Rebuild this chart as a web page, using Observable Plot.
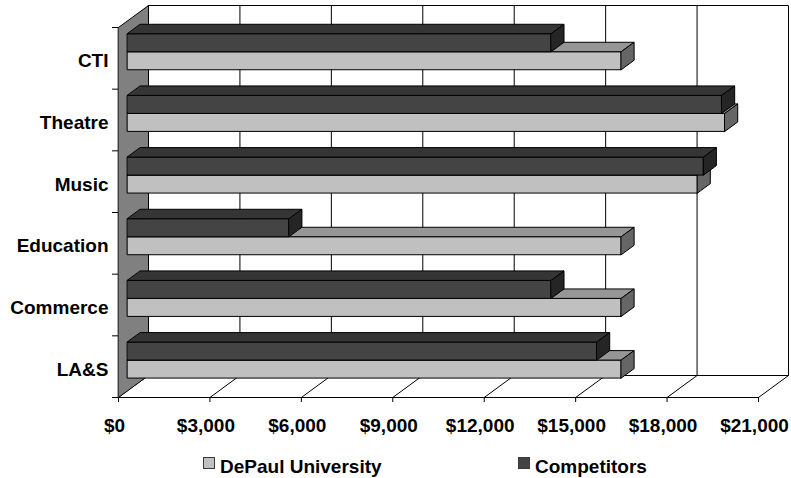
<!DOCTYPE html>
<html><head><meta charset="utf-8">
<script src="https://cdn.jsdelivr.net/npm/d3@7"></script>
<script src="https://cdn.jsdelivr.net/npm/@observablehq/plot@0.6"></script>
<style>
body{margin:0;background:#fff;font-family:"Liberation Sans",Arial,sans-serif;}
#wrap{position:relative;width:791px;height:478px;overflow:hidden;}
#legend{position:relative;width:791px;height:30px;}
.lt{position:absolute;font-weight:bold;font-size:19px;line-height:19px;white-space:nowrap;color:#000;}
.sw{position:absolute;width:10px;height:10px;border:1px solid #3a3a3a;}
</style></head><body><div id="wrap"></div>
<script>
// categories listed bottom to top
const categories = ["LA&S", "Commerce", "Education", "Music", "Theatre", "CTI"];
const depaul = [16200, 16200, 16200, 18700, 19600, 16200];
const competitors = [15400, 13900, 5300, 18900, 19500, 13900];
const xTicks = [0, 3000, 6000, 9000, 12000, 15000, 18000, 21000];
const seriesNames = ["DePaul University", "Competitors"];
const seriesFront = ["#c0c0c0", "#444444"];
const seriesTop = ["#969696", "#353535"];
const seriesEnd = ["#666666", "#252525"];

const W = 791, H = 448;
const mL = 118, mR = 33, mT = 27, mB = 51;
const xMax = 21000, nCat = categories.length;
const DX = 30 * xMax / (W - mL - mR);     // depth shift in x units
const DY = 22 * nCat / (H - mT - mB);     // depth shift in y units
const P = (v, c, d) => ({x: v + d * DX, y: c + d * DY});
const d0 = 0.3, d1 = 0.73, bh = 0.292;

function rows(polys) {
  const out = [];
  polys.forEach((p, i) => p.pts.forEach(q => out.push({id: i, x: q.x, y: q.y, fill: p.fill})));
  return out;
}

const walls = rows([
  {fill: "#ffffff", pts: [P(0, 0, 1), P(xMax, 0, 1), P(xMax, nCat, 1), P(0, nCat, 1)]},
  {fill: "#ffffff", pts: [P(0, 0, 0), P(xMax, 0, 0), P(xMax, 0, 1), P(0, 0, 1)]},
  {fill: "#808080", pts: [P(0, 0, 0), P(0, 0, 1), P(0, nCat, 1), P(0, nCat, 0)]}
]);

const gridPolys = [];
xTicks.slice(1, -1).forEach(t => {
  gridPolys.push({fill: "none", pts: [P(t, 0, 1), P(t, nCat, 1)]});
  gridPolys.push({fill: "none", pts: [P(t, 0, 0), P(t, 0, 1)]});
});
const grid = rows(gridPolys);

const barPolys = [];
for (let c = nCat - 1; c >= 0; c--) {
  [depaul[c], competitors[c]].forEach((v, s) => {
    const yb = c + 0.5 - bh + s * bh, yt = yb + bh;
    barPolys.push({fill: seriesFront[s], pts: [P(0, yb, d0), P(v, yb, d0), P(v, yt, d0), P(0, yt, d0)]});
    barPolys.push({fill: seriesTop[s], pts: [P(0, yt, d0), P(v, yt, d0), P(v, yt, d1), P(0, yt, d1)]});
    barPolys.push({fill: seriesEnd[s], pts: [P(v, yb, d0), P(v, yb, d1), P(v, yt, d1), P(v, yt, d0)]});
  });
}
const bars = rows(barPolys);

const fmt = d3.format(",");
const chart = Plot.plot({
  width: W, height: H,
  marginLeft: mL, marginRight: mR, marginTop: mT, marginBottom: mB,
  x: {domain: [0, xMax], range: [mL, W - mR]},
  y: {domain: [0, nCat], range: [H - mB, mT]},
  style: {fontFamily: "'Liberation Sans', Arial, sans-serif", fontSize: "19px", fontWeight: "bold", color: "black", background: "white"},
  marks: [
    Plot.line(walls, {x: "x", y: "y", z: "id", fill: "fill", stroke: "black", strokeWidth: 1, curve: "linear-closed", strokeLinejoin: "miter"}),
    Plot.line(grid, {x: "x", y: "y", z: "id", stroke: "black", strokeWidth: 1}),
    Plot.line(bars, {x: "x", y: "y", z: "id", fill: "fill", stroke: "black", strokeWidth: 1, curve: "linear-closed", strokeLinejoin: "miter"}),
    Plot.ruleY(d3.range(0, nCat + 1), {x1: -6 * xMax / (W - mL - mR), x2: 0, stroke: "black", strokeWidth: 1}),
    Plot.axisX({ticks: xTicks, tickFormat: d => "$" + fmt(d), tickSize: 5, tickPadding: 16, label: null}),
    Plot.axisX({ticks: xTicks, tickFormat: null, tickSize: 0, text: null, label: null}),
    Plot.axisY({ticks: categories.map((_, i) => i + 0.5), tickFormat: d => categories[Math.floor(d)], tickSize: 0, tickPadding: 10, dy: 3, label: null})
  ]
});
// shift the x tick labels a few pixels left, as in the reference
chart.querySelectorAll("g[aria-label='x-axis tick label'] text").forEach(t => {
  t.setAttribute("transform", (t.getAttribute("transform") || "") + " translate(-4,0)");
});
const wrap = document.getElementById("wrap");
wrap.appendChild(chart);

const legend = document.createElement("div");
legend.id = "legend";
const legPos = [[203, 220], [518, 535]];
seriesNames.forEach((name, i) => {
  const sw = document.createElement("div");
  sw.className = "sw";
  sw.style.left = legPos[i][0] + "px";
  sw.style.top = "9px";
  sw.style.background = seriesFront[i];
  const t = document.createElement("div");
  t.className = "lt";
  t.style.left = legPos[i][1] + "px";
  t.style.top = "9px";
  t.textContent = name;
  legend.appendChild(sw);
  legend.appendChild(t);
});
wrap.appendChild(legend);
</script></body></html>
